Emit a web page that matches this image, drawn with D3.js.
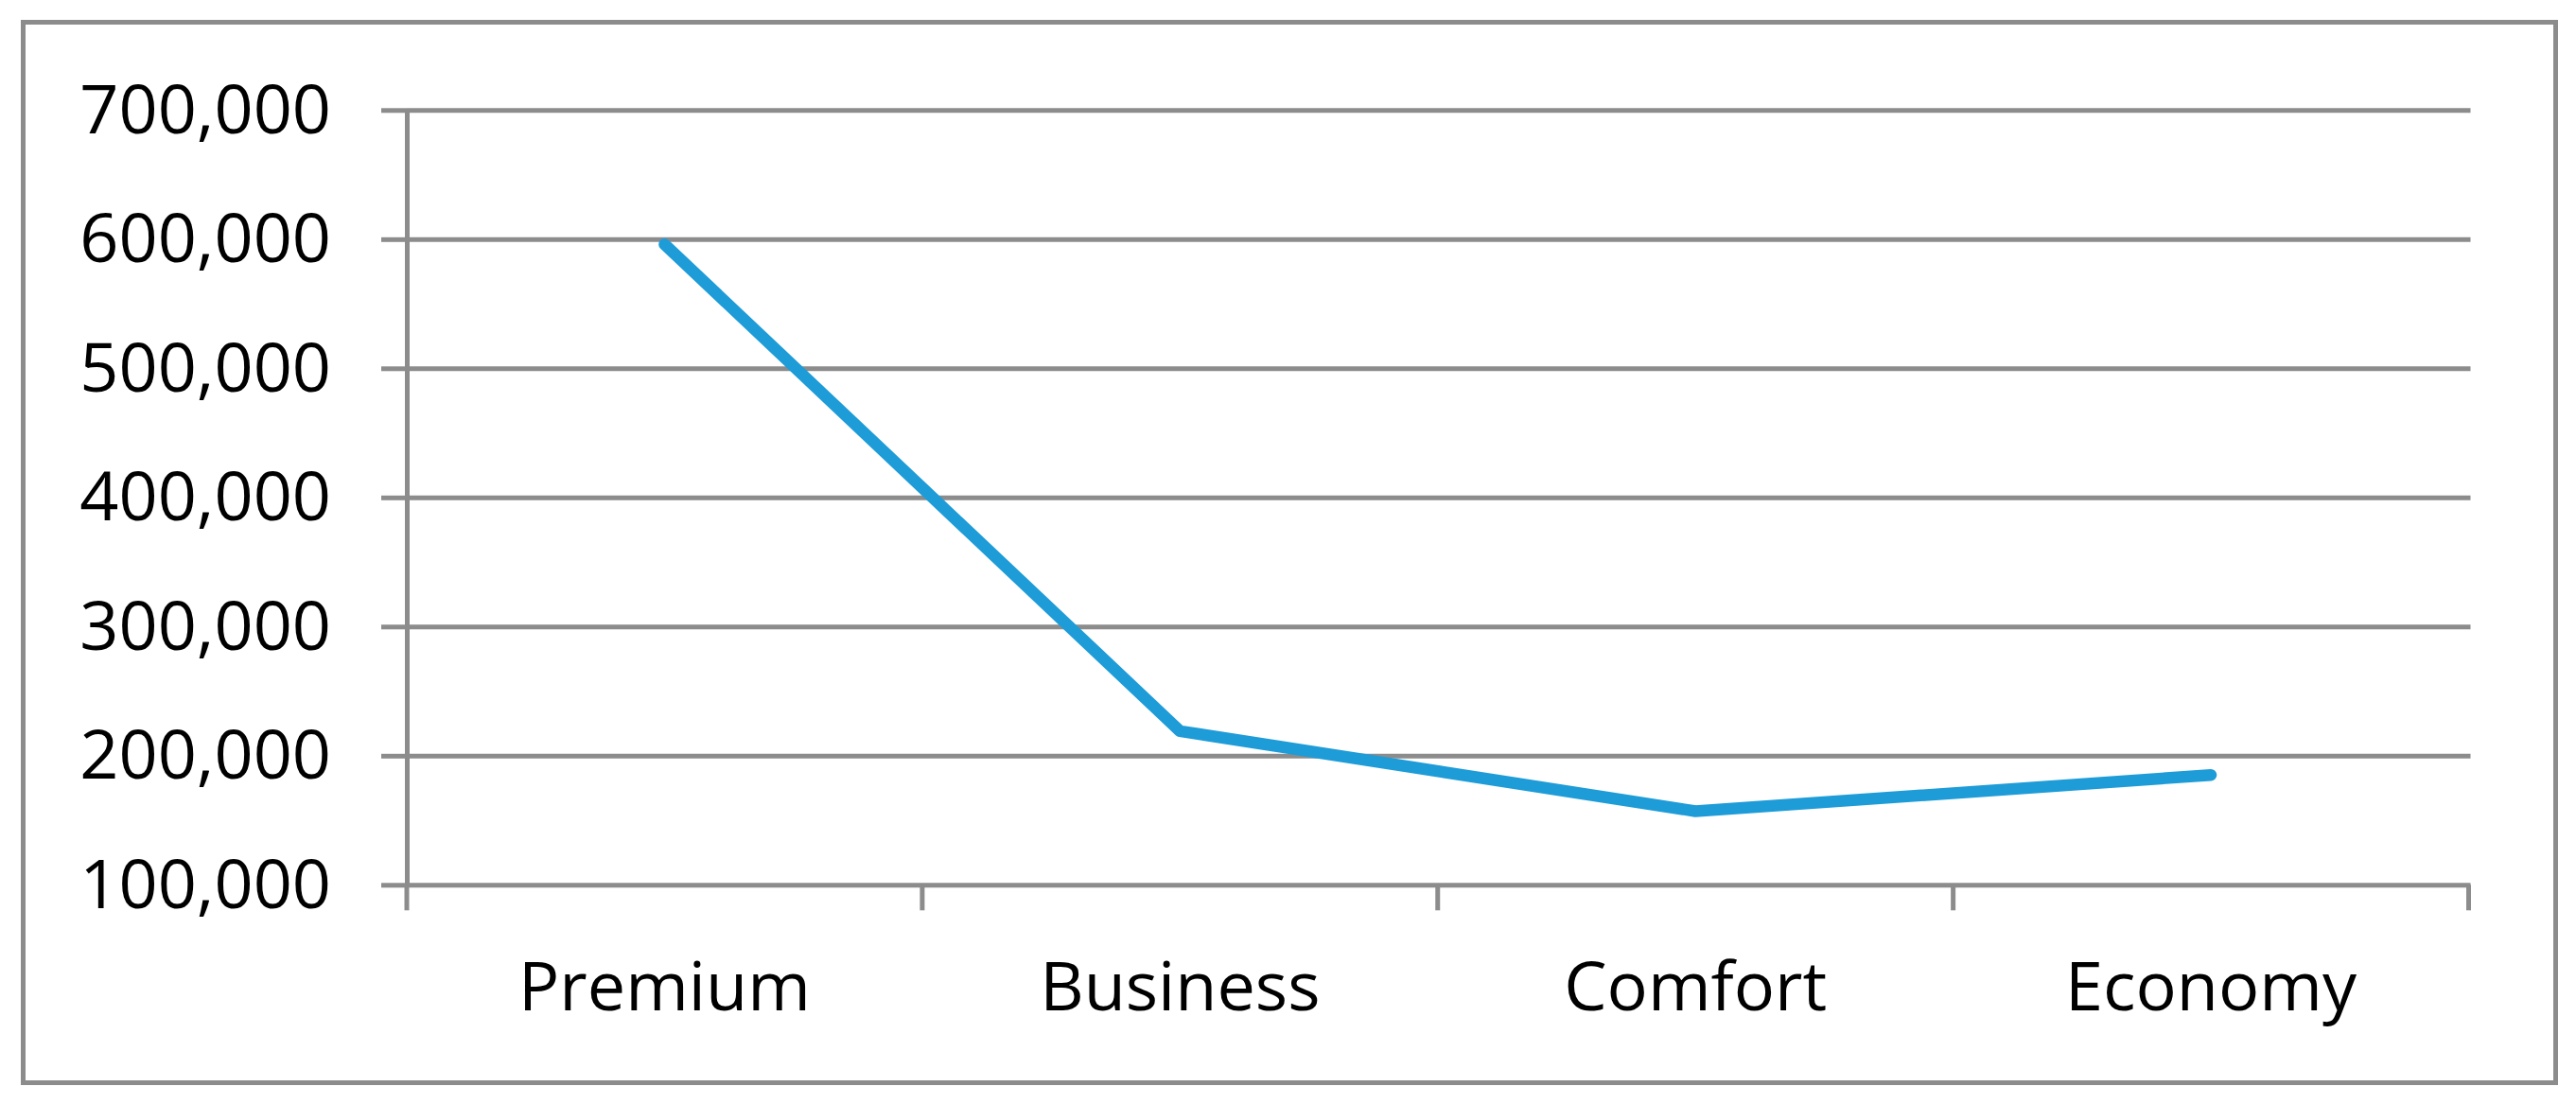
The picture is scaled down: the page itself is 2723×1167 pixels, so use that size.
<!DOCTYPE html>
<html>
<head>
<meta charset="utf-8">
<script src="https://cdn.jsdelivr.net/npm/d3@7"></script>
<style>
  html, body { margin: 0; padding: 0; background: #fff; }
  svg { display: block; }
</style>
</head>
<body>
<svg id="chart" width="2723" height="1167"></svg>
<script>
// ---- data ----
const categories = ["Premium", "Business", "Comfort", "Economy"];
const values = [596000, 219000, 157000, 185000];
const yTickValues = [100000, 200000, 300000, 400000, 500000, 600000, 700000];

// ---- layout ----
const W = 2723, H = 1167;
const plot = { left: 430, right: 2609.5, top: 116.3, bottom: 935.3 };
const gridColor = "#8c8c8c";
const lineColor = "#1e9cd8";
const fontFamily = "'Open Sans', 'Noto Sans', sans-serif";
const fontSize = 72;

const svg = d3.select("#chart");

svg.append("rect")
  .attr("x", 0).attr("y", 0).attr("width", W).attr("height", H)
  .attr("fill", "#fff");

// outer border
svg.append("rect")
  .attr("x", 24.5).attr("y", 23.5)
  .attr("width", 2701.5 - 24.5).attr("height", 1144.5 - 23.5)
  .attr("fill", "none").attr("stroke", gridColor).attr("stroke-width", 5);

const x = d3.scaleBand().domain(categories).range([plot.left, plot.right]).padding(0);
const y = d3.scaleLinear().domain([100000, 700000]).range([plot.bottom, plot.top]);

// gridlines
const grid = svg.append("g").attr("transform", `translate(${plot.left},0)`)
  .call(d3.axisLeft(y).tickValues(yTickValues).tickSizeInner(-(plot.right - plot.left + 2)).tickSizeOuter(0).tickFormat(""));
grid.select(".domain").remove();
grid.selectAll(".tick line").attr("stroke", gridColor).attr("stroke-width", 5);

// y axis with ticks + labels
const yAxis = svg.append("g").attr("transform", `translate(${plot.left},0)`)
  .call(d3.axisLeft(y).tickValues(yTickValues).tickSizeInner(27).tickSizeOuter(0)
    .tickPadding(53).tickFormat(d3.format(",")));
yAxis.select(".domain").attr("stroke", gridColor).attr("stroke-width", 5);
yAxis.selectAll(".tick line").attr("stroke", gridColor).attr("stroke-width", 5);
yAxis.selectAll(".tick text")
  .attr("fill", "#000").attr("font-family", fontFamily).attr("font-size", fontSize)
  .attr("dy", "0.33em");

// x axis labels (at band centres)
const xAxis = svg.append("g").attr("transform", `translate(0,${plot.bottom})`)
  .call(d3.axisBottom(x).tickSize(0).tickPadding(0));
xAxis.select(".domain").remove();
xAxis.selectAll(".tick text")
  .attr("fill", "#000").attr("font-family", fontFamily).attr("font-size", fontSize)
  .attr("y", 132.7).attr("dy", 0);

// x axis boundary ticks
const boundaries = categories.map(c => x(c)).concat([x.range()[1]]);
svg.append("g").selectAll("line").data(boundaries).join("line")
  .attr("x1", d => d).attr("x2", d => d)
  .attr("y1", plot.bottom).attr("y2", plot.bottom + 27)
  .attr("stroke", gridColor).attr("stroke-width", 5);

// series line
const line = d3.line()
  .x((d, i) => x(categories[i]) + x.bandwidth() / 2)
  .y(d => y(d));
svg.append("path")
  .datum(values)
  .attr("d", line)
  .attr("fill", "none")
  .attr("stroke", lineColor)
  .attr("stroke-width", 12.5)
  .attr("stroke-linecap", "round")
  .attr("stroke-linejoin", "round");
</script>
</body>
</html>
